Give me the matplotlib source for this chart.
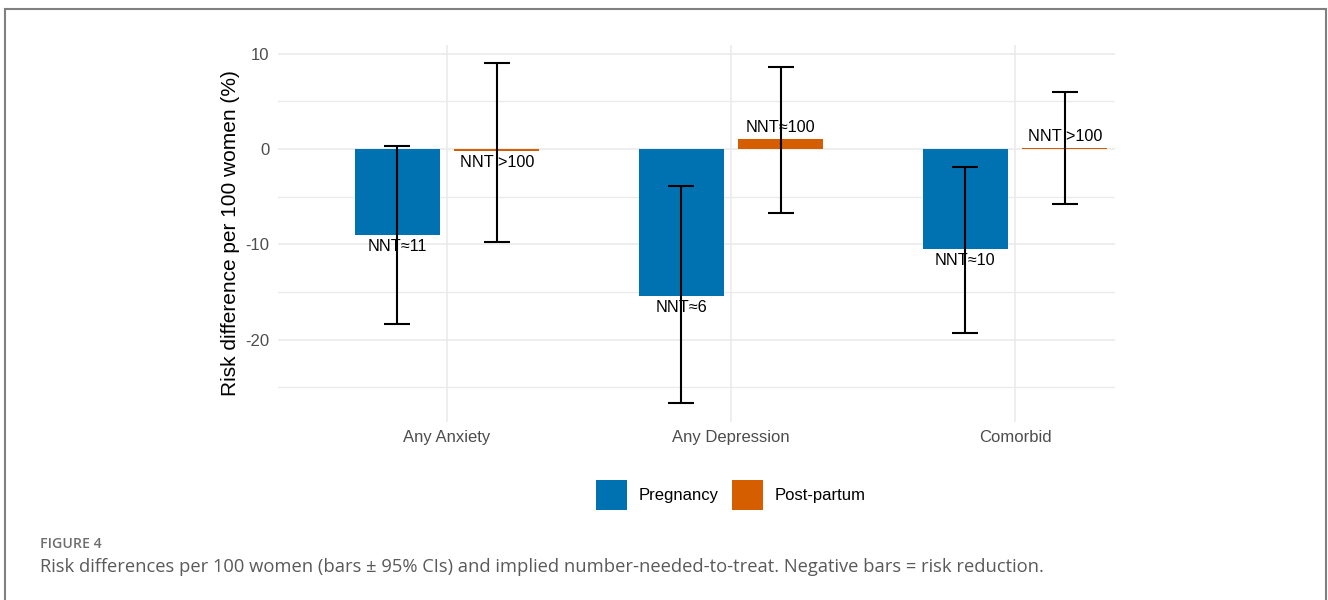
"""Risk differences per 100 women with 95% CIs and implied NNT."""
import numpy as np
import matplotlib.pyplot as plt
from matplotlib.patches import Patch
from matplotlib.lines import Line2D

outcomes = ['Any Anxiety', 'Any Depression', 'Comorbid']
periods = ['Pregnancy', 'Post-partum']

# risk difference per 100 women, with lower / upper 95% CI
rd_preg = [-9.0, -15.4, -10.5]
lo_preg = [-18.4, -26.7, -19.3]
hi_preg = [0.3, -3.9, -1.9]
nnt_preg = ['NNT≈11', 'NNT≈6', 'NNT≈10']

rd_post = [-0.2, 1.0, 0.1]
lo_post = [-9.8, -6.7, -5.8]
hi_post = [9.0, 8.6, 6.0]
nnt_post = ['NNT >100', 'NNT≈100', 'NNT >100']

colors = {'Pregnancy': '#0072B2', 'Post-partum': '#D55E00'}

plt.rcParams['font.family'] = ['Liberation Sans', 'DejaVu Sans']

fig = plt.figure(figsize=(13.28, 6.0), dpi=100)
ax = fig.add_axes([278 / 1328, 1 - 422 / 600, (1115 - 278) / 1328, (422 - 45) / 600])

x = np.arange(1, len(outcomes) + 1)
offset = 0.175
width = 0.30

series = [
    ('Pregnancy', -offset, rd_preg, lo_preg, hi_preg, nnt_preg),
    ('Post-partum', offset, rd_post, lo_post, hi_post, nnt_post),
]

for name, dx, rd, lo, hi, labels in series:
    xs = x + dx
    rd = np.array(rd)
    ax.bar(xs, rd, width=width, color=colors[name], zorder=2)
    for xi, v, lab in zip(xs, rd, labels):
        if v < 0:
            ax.annotate(lab, (xi, v), xytext=(0, -3), textcoords='offset points',
                        ha='center', va='top', fontsize=11.7, color='black', zorder=3)
        else:
            ax.annotate(lab, (xi, v), xytext=(0, 3), textcoords='offset points',
                        ha='center', va='bottom', fontsize=11.7, color='black', zorder=3)
    err = [rd - np.array(lo), np.array(hi) - rd]
    ax.errorbar(xs, rd, yerr=err, fmt='none', ecolor='black', elinewidth=1.5,
                capsize=9.7, capthick=1.5, zorder=4)

ax.set_xlim(1 - 169 / 284, 3 + 100 / 284)
ax.set_ylim(-28.65, 10.91)
ax.set_xticks(x)
ax.set_xticklabels(outcomes)
ax.set_yticks([-20, -10, 0, 10])
ax.set_yticklabels(['-20', '-10', '0', '10'])
ax.set_yticks([-25, -15, -5, 5], minor=True)
ax.tick_params(axis='both', which='both', length=0, labelsize=12, colors='#4D4D4D', pad=6)
ax.grid(True, which='major', color='#EBEBEB', linewidth=1.2, zorder=0)
ax.grid(True, which='minor', axis='y', color='#EBEBEB', linewidth=1.0, zorder=0)
ax.set_axisbelow(True)
for s in ax.spines.values():
    s.set_visible(False)
ax.set_ylabel('Risk difference per 100 women (%)', fontsize=15, color='black', labelpad=4)

handles = [Patch(facecolor=colors[p], edgecolor='none', label=p) for p in periods]
fig.legend(handles=handles, loc='center', bbox_to_anchor=(731 / 1328, 1 - 495 / 600),
           ncol=2, frameon=False, fontsize=12, handlelength=1.86, handleheight=2.4,
           handletextpad=0.72, columnspacing=0.78)

# caption
fig.text(40 / 1328, 1 - 544 / 600, 'FIGURE 4', family=['Open Sans', 'DejaVu Sans'],
         fontweight='semibold', fontsize=10.2, color='#6E6E6E', va='center', ha='left')
fig.text(40 / 1328, 1 - 567 / 600,
         'Risk differences per 100 women (bars \u00b1 95% CIs) and implied '
         'number-needed-to-treat. Negative bars = risk reduction.',
         family=['Open Sans', 'DejaVu Sans'], fontsize=13.2, color='#5A5A5A',
         va='center', ha='left')

# frame around the figure (open at the bottom)
frame_kw = dict(color='#808080', linewidth=1.5, transform=fig.transFigure)
fig.add_artist(Line2D([4.5 / 1328, 1325.5 / 1328], [1 - 8.5 / 600, 1 - 8.5 / 600], **frame_kw))
fig.add_artist(Line2D([4.5 / 1328, 4.5 / 1328], [0, 1 - 8.5 / 600], **frame_kw))
fig.add_artist(Line2D([1325.5 / 1328, 1325.5 / 1328], [0, 1 - 8.5 / 600], **frame_kw))

fig.savefig('out.png', dpi=100)
